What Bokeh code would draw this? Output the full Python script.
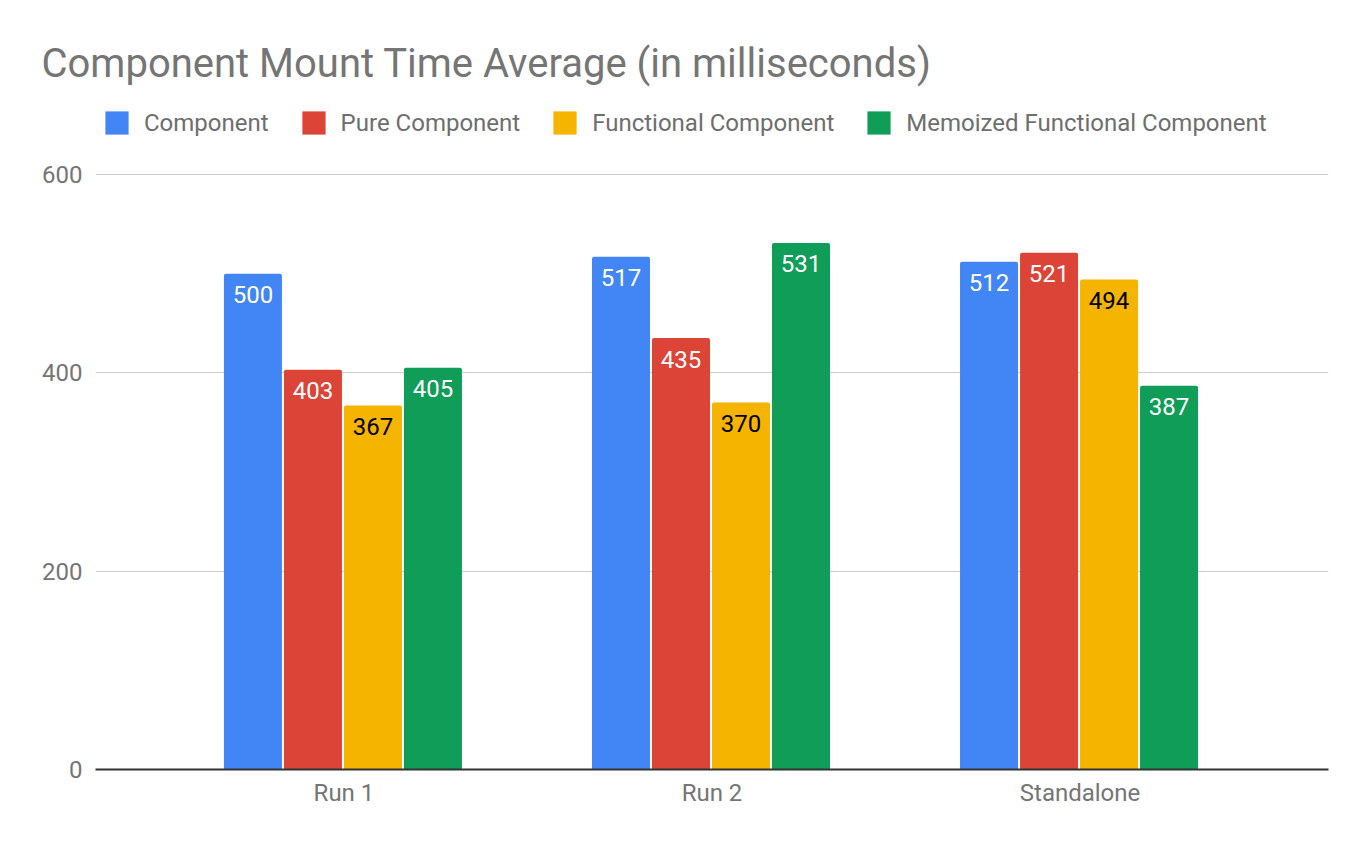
from bokeh.plotting import figure
from bokeh.models import ColumnDataSource, FactorRange, Range1d, FixedTicker, Legend, LegendItem
from bokeh.transform import dodge
from bokeh.core.properties import value
from bokeh.embed import file_html
from bokeh.resources import INLINE

# ---- data ----
categories = ["Run 1", "Run 2", "Standalone"]
series_names = ["Component", "Pure Component", "Functional Component",
                "Memoized Functional Component"]
component = [500, 517, 512]
pure_component = [403, 435, 521]
functional_component = [367, 370, 494]
memoized_functional_component = [405, 531, 387]
y_ticks = [0, 200, 400, 600]

series_values = [component, pure_component, functional_component,
                 memoized_functional_component]
colors = ["#4285F4", "#DB4437", "#F4B400", "#0F9D58"]
label_colors = ["#FFFFFF", "#FFFFFF", "#000000", "#FFFFFF"]
offsets = [-0.2473, -0.0842, 0.0788, 0.2418]
bar_width = 0.1576

FONT = "Roboto"

p = figure(width=1371, height=847,
           x_range=FactorRange(factors=categories, range_padding=0.1167),
           y_range=Range1d(0, 673.6),
           output_backend="svg", toolbar_location=None,
           min_border_left=95, min_border_right=43,
           min_border_bottom=78, min_border_top=101,
           title="Component Mount Time Average (in milliseconds)")

p.title.text_font = FONT
p.title.text_font_size = "40px"
p.title.text_font_style = "normal"
p.title.text_color = "#757575"
p.title.offset = -54
p.title.standoff = 30

p.outline_line_color = None
p.xgrid.grid_line_color = None
p.ygrid.ticker = FixedTicker(ticks=y_ticks)
p.ygrid.grid_line_color = "#CCCCCC"
p.ygrid.grid_line_width = 1

p.yaxis.ticker = FixedTicker(ticks=y_ticks)
p.yaxis.axis_line_color = None
p.yaxis.major_tick_line_color = None
p.yaxis.minor_tick_line_color = None
p.yaxis.major_tick_out = 0
p.yaxis.minor_tick_out = 0
p.yaxis.major_label_standoff = 13
p.yaxis.major_label_text_font = FONT
p.yaxis.major_label_text_font_size = "24px"
p.yaxis.major_label_text_color = "#757575"

p.xaxis.axis_line_color = "#333333"
p.xaxis.axis_line_width = 2
p.xaxis.major_tick_line_color = None
p.xaxis.minor_tick_line_color = None
p.xaxis.major_tick_out = 0
p.xaxis.minor_tick_out = 0
p.xaxis.major_label_standoff = 9
p.xaxis.major_label_text_font = FONT
p.xaxis.major_label_text_font_size = "24px"
p.xaxis.major_label_text_color = "#757575"

items = []
for name, vals, col, lcol, off in zip(series_names, series_values, colors,
                                      label_colors, offsets):
    src = ColumnDataSource(dict(x=categories, top=vals,
                                txt=[str(v) for v in vals]))
    r = p.vbar(x=dodge("x", off, range=p.x_range), top="top", bottom=0,
               width=bar_width, source=src, fill_color=col, line_color=None,
               border_radius=(2, 2, 0, 0))
    p.text(x=dodge("x", off, range=p.x_range), y="top", text="txt", source=src,
           text_align="center", text_baseline="middle", y_offset=21,
           text_font=value(FONT), text_font_size="24px", text_color=lcol)
    items.append(LegendItem(label=name, renderers=[r]))

legend = Legend(items=items, orientation="horizontal", location="top_left",
                glyph_width=29, glyph_height=29, label_standoff=13, spacing=30,
                padding=0, margin=7, border_line_color=None,
                background_fill_alpha=0, label_text_font=FONT,
                label_text_font_size="24px", label_text_color="#6E6E6E")
p.add_layout(legend, "center")

# keep x axis line on top of bars
p.xaxis.level = "overlay"

open("out.html", "w").write(file_html(p, INLINE))
